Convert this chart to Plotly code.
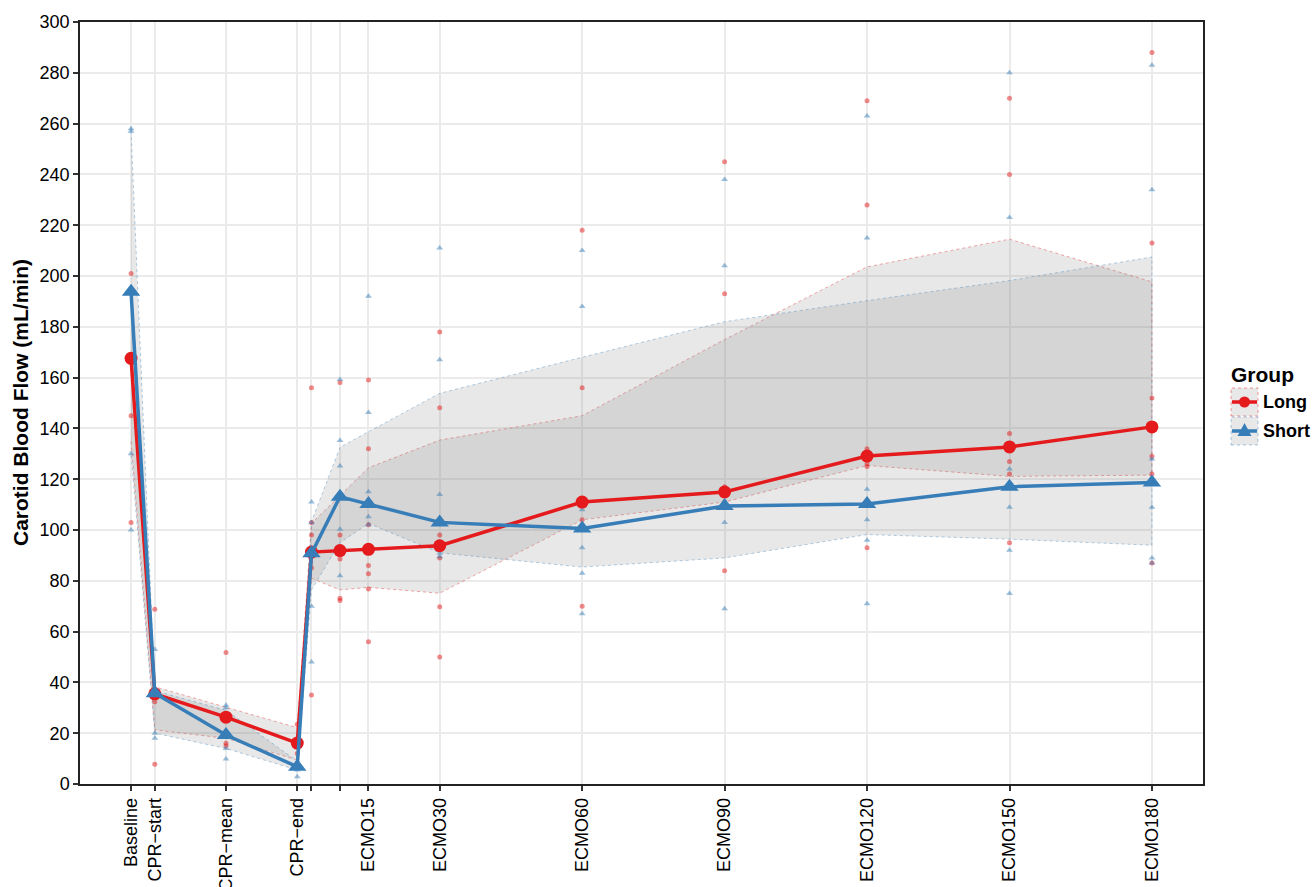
import plotly.graph_objects as go

# Time axis (minutes relative to ECMO start) and tick labels
times = [-35, -30, -15, 0, 3, 9, 15, 30, 60, 90, 120, 150, 180]
tick_labels = ["Baseline", "CPR\u2212start", "CPR\u2212mean", "CPR\u2212end", "", "",
               "ECMO15", "ECMO30", "ECMO60", "ECMO90", "ECMO120", "ECMO150", "ECMO180"]

# Long group: median and interquartile range
long_median = [167.6, 35.5, 26.3, 16.1, 91.3, 91.9, 92.4, 93.8, 111.0, 115.0, 129.1, 132.7, 140.6]
long_q1 = [135.0, 21.3, 18.0, 9.4, 81.0, 76.4, 77.4, 75.1, 104.0, 111.0, 125.4, 121.1, 121.6]
long_q3 = [190.0, 38.3, 30.2, 22.2, 102.6, 113.5, 124.5, 135.4, 145.0, 175.0, 203.6, 214.5, 197.7]

# Short group: median and interquartile range
short_median = [193.8, 35.7, 19.3, 6.8, 90.8, 113.1, 110.2, 103.0, 100.6, 109.4, 110.2, 117.0, 118.7]
short_q1 = [130.0, 20.0, 14.0, 5.5, 76.4, 95.0, 102.6, 91.0, 85.4, 89.0, 98.2, 96.4, 94.0]
short_q3 = [257.0, 36.7, 29.0, 9.0, 103.3, 132.5, 138.7, 153.8, 168.0, 182.0, 190.3, 198.2, 207.5]

# Individual animals, one list per time point
long_points = [
    [201, 167.6, 145, 103],
    [68.8, 35.3, 32.4, 7.8],
    [51.8, 26.2, 16.0, 15.1],
    [23.5, 16.1, 12.0],
    [156, 103, 98, 91, 85, 35],
    [158.1, 98, 91.9, 88.6, 73.1, 72.2],
    [159.1, 132, 102.1, 92.4, 86, 82.8, 76.8, 56],
    [178, 148.1, 98, 93.8, 89, 69.8, 50],
    [218, 156, 111, 104, 70],
    [245, 193, 117, 111, 84],
    [269, 228, 132, 126, 125, 93],
    [270, 240, 138, 127, 122, 95],
    [288, 213, 152, 129, 122, 87],
]
short_points = [
    [258, 257, 194, 130, 100],
    [53, 35.7, 20, 18],
    [31, 30, 19.3, 14, 9.8],
    [6.8, 5.5, 2.9],
    [111, 103, 90.8, 70, 48],
    [159.3, 135.2, 125.2, 113.1, 100.3, 82],
    [192, 146.3, 115.1, 110.2, 105.2, 102.1],
    [211, 167, 114, 103, 90.8, 89.5],
    [210, 188, 108, 93, 83, 67],
    [238, 204, 110, 103, 69],
    [263, 215, 116, 104, 96, 71],
    [280, 223, 124, 117, 109, 92, 75],
    [283, 234, 128, 118.7, 109, 89, 87],
]

RED = "#E41A1C"
BLUE = "#377EB8"
RIBBON_FILL = "rgba(128,128,128,0.18)"
FONT = "Liberation Sans, Arial, sans-serif"

fig = go.Figure()

# IQR ribbons
for q1, q3, edge in [(long_q1, long_q3, "rgba(228,26,28,0.55)"),
                     (short_q1, short_q3, "rgba(55,126,184,0.55)")]:
    fig.add_trace(go.Scatter(
        x=times + times[::-1], y=q3 + q1[::-1],
        fill="toself", fillcolor=RIBBON_FILL, mode="lines",
        line=dict(color=edge, width=0.7, dash="dot"),
        hoverinfo="skip", showlegend=False))

# Individual observations
def flatten(points):
    xs, ys = [], []
    for t, vals in zip(times, points):
        for v in vals:
            xs.append(t)
            ys.append(v)
    return xs, ys

lx, ly = flatten(long_points)
sx, sy = flatten(short_points)
fig.add_trace(go.Scatter(x=lx, y=ly, mode="markers", showlegend=False,
                         marker=dict(symbol="circle", size=5, color="rgba(228,26,28,0.5)")))
fig.add_trace(go.Scatter(x=sx, y=sy, mode="markers", showlegend=False,
                         marker=dict(symbol="triangle-up", size=6, color="rgba(55,126,184,0.5)")))

# Group medians
fig.add_trace(go.Scatter(x=times, y=long_median, mode="lines+markers", name="Long",
                         showlegend=False, line=dict(color=RED, width=3.5),
                         marker=dict(symbol="circle", size=13, color=RED)))
fig.add_trace(go.Scatter(x=times, y=short_median, mode="lines+markers", name="Short",
                         showlegend=False, line=dict(color=BLUE, width=3.5),
                         marker=dict(symbol="triangle-up", size=16, color=BLUE)))

# Plot area geometry in pixels
W, H = 1312, 887
L, R, T, B = 80, 1203, 22, 784


def px(x):
    return (x - L) / (R - L)


def py(y):
    return (B - y) / (B - T)


shapes = []
annotations = []

# Legend drawn by hand: ribbon key box, line and marker
annotations.append(dict(x=px(1229), y=py(374), xref="paper", yref="paper", text="<b>Group</b>",
                        showarrow=False, xanchor="left", yanchor="middle",
                        font=dict(family=FONT, size=21, color="black")))
for i, (name, col, edge) in enumerate([("Long", RED, "rgba(228,26,28,0.55)"),
                                        ("Short", BLUE, "rgba(55,126,184,0.55)")]):
    top = 388 + i * 29
    bot = top + 28
    cy = (top + bot) / 2
    shapes.append(dict(type="rect", xref="paper", yref="paper",
                       x0=px(1231), x1=px(1258), y0=py(bot), y1=py(top),
                       fillcolor=RIBBON_FILL, line=dict(color=edge, width=0.8, dash="dot"),
                       layer="above"))
    shapes.append(dict(type="line", xref="paper", yref="paper",
                       x0=px(1232), x1=px(1257), y0=py(cy), y1=py(cy),
                       line=dict(color=col, width=3.5), layer="above"))
    if name == "Long":
        shapes.append(dict(type="circle", xref="paper", yref="paper",
                           x0=px(1239), x1=px(1250), y0=py(cy + 5.5), y1=py(cy - 5.5),
                           fillcolor=col, line=dict(color=col, width=0), layer="above"))
    else:
        path = "M {} {} L {} {} L {} {} Z".format(
            px(1237.5), py(cy + 5), px(1251.5), py(cy + 5), px(1244.5), py(cy - 8))
        shapes.append(dict(type="path", xref="paper", yref="paper", path=path,
                           fillcolor=col, line=dict(color=col, width=0), layer="above"))
    annotations.append(dict(x=px(1261), y=py(cy), xref="paper", yref="paper",
                            text="<b>%s</b>" % name, showarrow=False,
                            xanchor="left", yanchor="middle",
                            font=dict(family=FONT, size=18, color="black")))

# Y-axis title
annotations.append(dict(x=px(20), y=0.5, xref="paper", yref="paper",
                        text="<b>Carotid Blood Flow (mL/min)</b>", textangle=-90,
                        showarrow=False, xanchor="center", yanchor="middle",
                        font=dict(family=FONT, size=21, color="black")))

fig.update_layout(
    width=W, height=H,
    margin=dict(l=L, r=W - R, t=T, b=H - B, autoexpand=False),
    paper_bgcolor="white", plot_bgcolor="white",
    font=dict(family=FONT, size=18, color="black"),
    shapes=shapes, annotations=annotations,
    showlegend=False,
)
fig.update_xaxes(
    range=[-45.75, 190.75], tickmode="array", tickvals=times, ticktext=tick_labels,
    tickangle=-90, ticks="outside", ticklen=5, tickwidth=1.5, tickcolor="#333333",
    showgrid=True, gridcolor="#EBEBEB", gridwidth=1.5, zeroline=False,
    showline=True, linecolor="#222222", linewidth=1.5, mirror=True, automargin=False,
    tickfont=dict(family=FONT, size=18, color="black"),
)
fig.update_yaxes(
    range=[0, 300], tickmode="linear", tick0=0, dtick=20,
    ticks="outside", ticklen=5, tickwidth=1.5, tickcolor="#333333",
    showgrid=True, gridcolor="#EBEBEB", gridwidth=1.5, zeroline=False,
    showline=True, linecolor="#222222", linewidth=1.5, mirror=True, automargin=False,
    tickfont=dict(family=FONT, size=18, color="black"),
)

fig.write_html("out.html")
